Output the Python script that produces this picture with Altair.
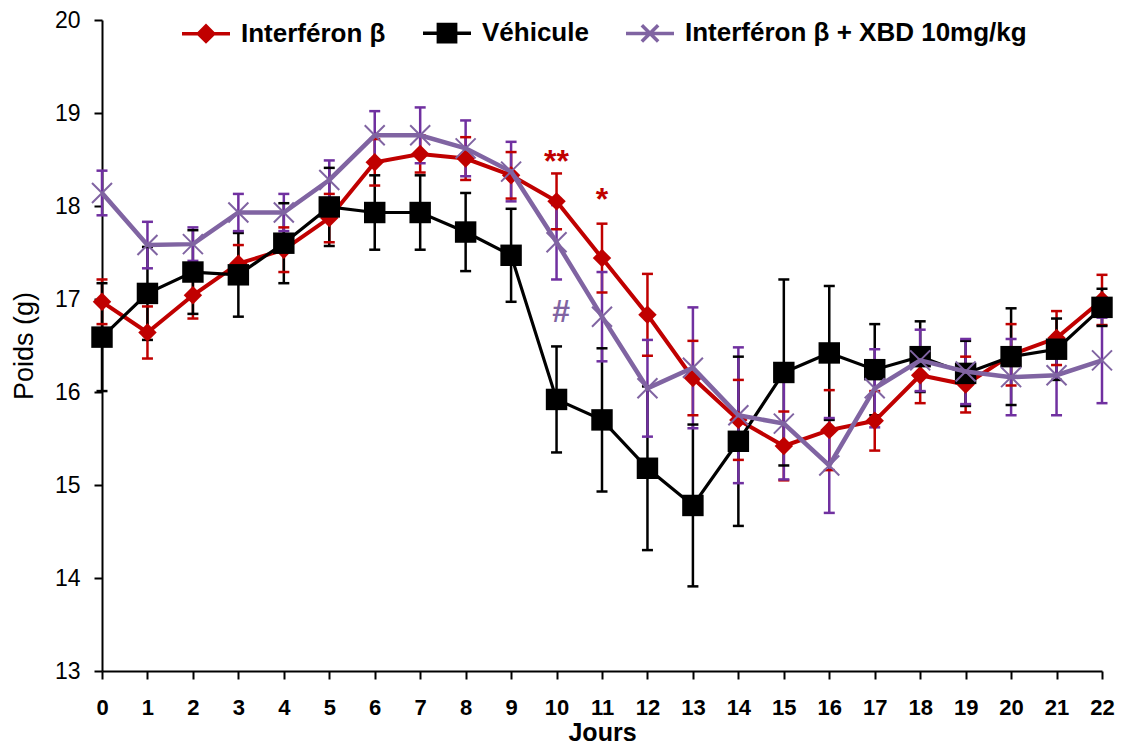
import altair as alt
import pandas as pd

# ---------------- data ----------------
days = list(range(23))

series_names = ["Interféron β", "Véhicule", "Interféron β + XBD 10mg/kg"]

ifn_mean = [16.97, 16.64, 17.04, 17.38, 17.53, 17.87, 18.47, 18.56, 18.51, 18.33, 18.05, 17.44,
            16.83, 16.15, 15.70, 15.42, 15.59, 15.69, 16.18, 16.08, 16.40, 16.58, 16.99]
ifn_sem = [0.24, 0.28, 0.25, 0.20, 0.24, 0.26, 0.25, 0.20, 0.23, 0.25, 0.30, 0.37,
           0.44, 0.40, 0.43, 0.37, 0.43, 0.32, 0.30, 0.30, 0.33, 0.29, 0.27]

veh_mean = [16.59, 17.06, 17.29, 17.26, 17.60, 17.99, 17.93, 17.93, 17.72, 17.47, 15.92, 15.70,
            15.18, 14.78, 15.47, 16.21, 16.42, 16.24, 16.38, 16.20, 16.38, 16.46, 16.91]
veh_sem = [0.58, 0.50, 0.45, 0.45, 0.43, 0.42, 0.40, 0.40, 0.42, 0.50, 0.57, 0.77,
           0.88, 0.87, 0.91, 1.00, 0.72, 0.49, 0.38, 0.35, 0.52, 0.33, 0.20]

xbd_mean = [18.14, 17.58, 17.59, 17.93, 17.93, 18.28, 18.76, 18.76, 18.62, 18.37, 17.61, 16.81,
            16.04, 16.26, 15.75, 15.66, 15.21, 16.04, 16.34, 16.22, 16.16, 16.18, 16.34]
xbd_sem = [0.24, 0.25, 0.18, 0.20, 0.20, 0.21, 0.26, 0.30, 0.30, 0.32, 0.40, 0.48,
           0.52, 0.65, 0.73, 0.60, 0.51, 0.42, 0.33, 0.35, 0.41, 0.43, 0.46]

# significance annotations
ann_labels = ["**", "*", "#"]
ann_days = [10, 11, 10.1]
ann_values = [18.47, 18.06, 16.86]
ann_series = ["Interféron β", "Interféron β", "Interféron β + XBD 10mg/kg"]

y_ticks = [13, 14, 15, 16, 17, 18, 19, 20]

# ---------------- styles ----------------
RED = "#c00000"
BLACK = "#000000"
PURPLE_LINE = "#8064a2"
PURPLE_BAR = "#7030a0"
line_colors = {series_names[0]: RED, series_names[1]: BLACK, series_names[2]: PURPLE_LINE}
bar_colors = {series_names[0]: RED, series_names[1]: BLACK, series_names[2]: PURPLE_BAR}
text_colors = {series_names[0]: RED, series_names[1]: BLACK, series_names[2]: PURPLE_LINE}
line_widths = {series_names[0]: 4, series_names[1]: 3.2, series_names[2]: 4.5}

FONT = "Liberation Sans, Arial, sans-serif"

rows = []
for name, means, sems in zip(series_names, [ifn_mean, veh_mean, xbd_mean], [ifn_sem, veh_sem, xbd_sem]):
    for d, m, s in zip(days, means, sems):
        rows.append({"day": d, "series": name, "mean": m, "lo": m - s, "hi": m + s,
                     "bar_color": bar_colors[name]})
df = pd.DataFrame(rows)

ann_df = pd.DataFrame({"day": ann_days, "mean": ann_values, "label": ann_labels,
                       "tcolor": [text_colors[s] for s in ann_series]})

# ---------------- scales / axes ----------------
x_scale = alt.Scale(domain=[0, 22], nice=False, zero=False)
y_scale = alt.Scale(domain=[13, 20], nice=False, zero=False)

x_axis = alt.Axis(values=days, title="Jours", grid=False,
                  labelFont=FONT, labelFontSize=22, labelFontWeight="bold", labelColor="black",
                  labelPadding=18, labelFlush=False,
                  titleFont=FONT, titleFontSize=25, titleFontWeight="bold", titleColor="black",
                  titleBaseline="middle", titleY=61,
                  domainColor="black", domainWidth=2, tickColor="black", tickWidth=2, tickSize=8)
y_axis = alt.Axis(values=y_ticks, title="Poids (g)", grid=False,
                  labelFont=FONT, labelFontSize=23, labelColor="black", labelPadding=14,
                  titleFont=FONT, titleFontSize=27, titleFontWeight="normal", titleColor="black",
                  titlePadding=16,
                  domainColor="black", domainWidth=2, tickColor="black", tickWidth=2, tickSize=8)

X = alt.X("day:Q", scale=x_scale, axis=x_axis)

base = alt.Chart(df)

# error bars
err_rules = base.mark_rule(strokeWidth=2.5).encode(
    x=X,
    y=alt.Y("lo:Q", scale=y_scale, axis=y_axis),
    y2="hi:Q",
    color=alt.Color("bar_color:N", scale=None),
)
err_caps = base.transform_fold(["lo", "hi"], as_=["end", "value"]).mark_tick(
    orient="horizontal", size=11, thickness=2.5, opacity=1
).encode(
    x=X,
    y=alt.Y("value:Q", scale=y_scale, axis=y_axis),
    color=alt.Color("bar_color:N", scale=None),
)

layers = [err_rules, err_caps]

marker_specs = {
    series_names[0]: dict(shape="diamond", filled=True, size=340, strokeWidth=0),
    series_names[1]: dict(shape="square", filled=True, size=460, strokeWidth=0),
    series_names[2]: dict(shape="M-1,-1L1,1M-1,1L1,-1", filled=False, size=400, strokeWidth=2),
}

for name in series_names:
    sub = base.transform_filter(alt.datum.series == name)
    layers.append(
        sub.mark_line(color=line_colors[name], strokeWidth=line_widths[name]).encode(
            x=X, y=alt.Y("mean:Q", scale=y_scale, axis=y_axis)
        )
    )
    layers.append(
        sub.mark_point(color=line_colors[name], opacity=1, **marker_specs[name]).encode(
            x=X, y=alt.Y("mean:Q", scale=y_scale, axis=y_axis)
        )
    )

# legend (line + marker symbols), drawn from an empty layer with explicit domains
legend_paths = [
    "M-1,0H1M0,-0.32L0.32,0L0,0.32L-0.32,0Z",
    "M-1,0H1M-0.36,-0.36H0.36V0.36H-0.36Z",
    "M-1,0H1M-0.34,-0.34L0.34,0.34M-0.34,0.34L0.34,-0.34",
]
legend_layer = base.transform_filter("false").mark_point(opacity=1, strokeWidth=3.5).encode(
    x=X,
    y=alt.Y("mean:Q", scale=y_scale, axis=y_axis),
    shape=alt.Shape("series:N", scale=alt.Scale(domain=series_names, range=legend_paths), title=None),
    fill=alt.Fill("series:N", scale=alt.Scale(domain=series_names, range=[RED, BLACK, PURPLE_LINE]), title=None),
    stroke=alt.Stroke("series:N", scale=alt.Scale(domain=series_names, range=[RED, BLACK, PURPLE_LINE]), title=None),
)
layers.append(legend_layer)

# annotations
ann = alt.Chart(ann_df).mark_text(font=FONT, fontSize=32, fontWeight="bold", baseline="middle").encode(
    x=X,
    y=alt.Y("mean:Q", scale=y_scale, axis=y_axis),
    text="label:N",
    color=alt.Color("tcolor:N", scale=None),
)
layers.append(ann)

chart = alt.layer(*layers).properties(
    width=1000,
    height=651,
    autosize=alt.AutoSizeParams(type="none"),
    padding={"left": 94, "top": 12, "right": 13, "bottom": 77},
).configure_view(
    strokeWidth=0
).configure_legend(
    orient="none",
    legendX=78,
    legendY=-13,
    direction="horizontal",
    labelFont=FONT,
    labelFontSize=26,
    labelFontWeight="bold",
    labelColor="black",
    labelOffset=9,
    labelLimit=1000,
    symbolSize=2304,
    symbolStrokeWidth=3.5,
    columnPadding=30,
    padding=0,
)

chart.save("out.html", embed_options={"renderer": "svg", "actions": False})
